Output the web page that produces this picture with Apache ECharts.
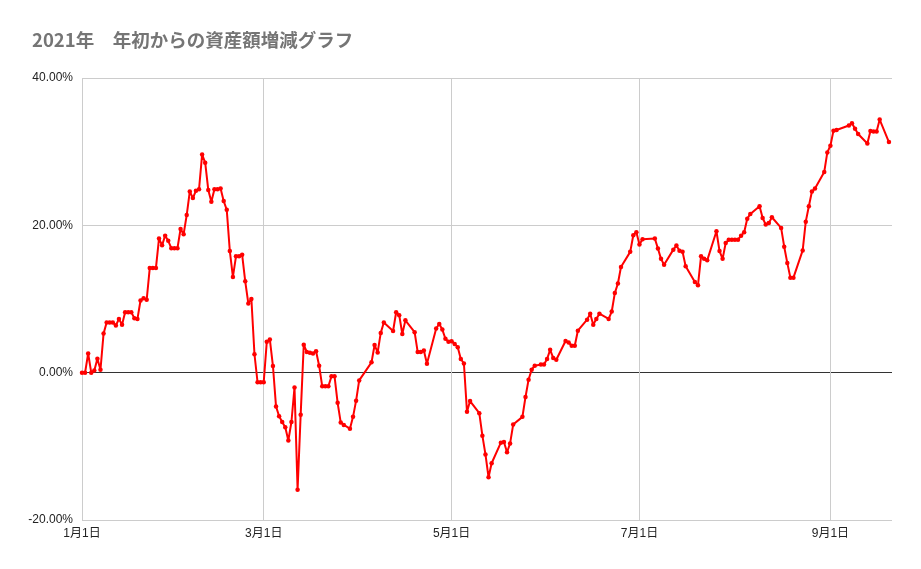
<!DOCTYPE html>
<html>
<head>
<meta charset="utf-8">
<script src="https://cdn.jsdelivr.net/npm/echarts@6/dist/echarts.min.js"></script>
<style>
html,body{margin:0;padding:0;background:#fff;}
#chart{width:921px;height:569px;}
</style>
</head>
<body>
<div id="chart"></div>
<script>
var titleText = '2021年　年初からの資産額増減グラフ';

var dates = [
 '1/1','1/2','1/3','1/4','1/5','1/6','1/7','1/8','1/9','1/10',
 '1/11','1/12','1/13','1/14','1/15','1/16','1/17','1/18','1/19','1/20',
 '1/21','1/22','1/23','1/24','1/25','1/26','1/27','1/28','1/29','1/30',
 '1/31','2/1','2/2','2/3','2/4','2/5','2/6','2/7','2/8','2/9',
 '2/10','2/11','2/12','2/13','2/14','2/15','2/16','2/17','2/18','2/19',
 '2/20','2/21','2/22','2/23','2/24','2/25','2/26','2/27','2/28','3/1',
 '3/2','3/3','3/4','3/5','3/6','3/7','3/8','3/9','3/10','3/11',
 '3/12','3/13','3/14','3/15','3/16','3/17','3/18','3/19','3/20','3/21',
 '3/22','3/23','3/24','3/25','3/26','3/27','3/29','3/30','3/31','4/1',
 '4/5','4/6','4/7','4/8','4/9','4/12','4/13','4/14','4/15','4/16',
 '4/19','4/20','4/21','4/22','4/23','4/26','4/27','4/28','4/29','4/30',
 '5/1','5/2','5/3','5/4','5/5','5/6','5/7','5/10','5/11','5/12',
 '5/13','5/14','5/17','5/18','5/19','5/20','5/21','5/24','5/25','5/26',
 '5/27','5/28','5/30','5/31','6/1','6/2','6/3','6/4','6/7','6/8',
 '6/9','6/10','6/11','6/14','6/15','6/16','6/17','6/18','6/21','6/22',
 '6/23','6/24','6/25','6/28','6/29','6/30','7/1','7/2','7/6','7/7',
 '7/8','7/9','7/12','7/13','7/14','7/15','7/16','7/19','7/20','7/21',
 '7/22','7/23','7/26','7/27','7/28','7/29','7/30','7/31','8/1','8/2',
 '8/3','8/4','8/5','8/6','8/9','8/10','8/11','8/12','8/13','8/16',
 '8/17','8/18','8/19','8/20','8/23','8/24','8/25','8/26','8/27','8/30',
 '8/31','9/1','9/2','9/3','9/7','9/8','9/9','9/10','9/13','9/14',
 '9/15','9/16','9/17','9/20'
];

var values = [
 0,0,2.6,0,0.3,1.9,0.4,5.3,6.8,6.8,
 6.8,6.4,7.3,6.5,8.2,8.2,8.2,7.4,7.3,9.8,
 10.1,9.9,14.2,14.2,14.2,18.2,17.3,18.6,17.9,16.9,
 16.9,16.9,19.5,18.8,21.4,24.6,23.7,24.7,24.9,29.6,
 28.5,24.8,23.2,24.9,24.9,25.0,23.3,22.1,16.5,13.0,
 15.8,15.8,16.0,12.4,9.4,10.0,2.5,-1.3,-1.3,-1.3,
 4.2,4.5,0.9,-4.6,-5.9,-6.7,-7.4,-9.2,-6.7,-2.0,
 -15.9,-5.7,3.8,2.8,2.7,2.6,2.9,0.95,-1.85,-1.85,
 -1.85,-0.5,-0.5,-4.1,-6.75,-7.1,-7.6,-6.0,-3.8,-1.05,
 1.4,3.75,2.75,5.4,6.8,5.65,8.2,7.8,5.25,7.1,
 5.5,2.8,2.8,3.0,1.2,6.0,6.6,5.85,4.6,4.2,
 4.25,3.9,3.45,1.85,1.25,-5.3,-3.85,-5.5,-8.55,-11.1,
 -14.2,-12.3,-9.5,-9.4,-10.8,-9.6,-7.05,-6.0,-3.3,-0.95,
 0.4,0.95,1.1,1.1,1.85,3.1,2.0,1.75,4.3,4.1,
 3.65,3.65,5.7,7.2,8.0,6.5,7.3,8.0,7.3,8.3,
 10.8,12.1,14.35,16.4,18.65,19.05,17.4,18.1,18.2,16.85,
 15.45,14.65,16.7,17.25,16.55,16.4,14.45,12.3,11.85,15.8,
 15.45,15.25,19.2,16.5,15.45,17.6,18.05,18.05,18.05,18.05,
 18.6,19.05,20.9,21.55,22.6,21.0,20.1,20.3,21.1,19.65,
 17.1,14.9,12.9,12.9,16.6,20.5,22.6,24.6,25.0,27.25,
 29.9,30.8,32.85,32.95,33.55,33.85,33.1,32.4,31.1,32.8,
 32.75,32.75,34.35,31.3
];

var xTickDates = ['1/1','3/1','5/1','7/1','9/1'];
var xRange = ['1/1','9/21'];
var yMin = -20, yMax = 40, yStep = 20;

var DAY = 86400000;
var BASE = Date.UTC(2021, 0, 1);
function dayOf(md) {
  var p = md.split('/');
  return Math.round((Date.UTC(2021, parseInt(p[0], 10) - 1, parseInt(p[1], 10)) - BASE) / DAY);
}
function labelOf(day) {
  var d = new Date(BASE + Math.round(day) * DAY);
  return (d.getUTCMonth() + 1) + '月' + d.getUTCDate() + '日';
}

var seriesData = dates.map(function (d, i) { return [dayOf(d), values[i]]; });
var tickValues = xTickDates.map(dayOf);

var FONT = '"Liberation Sans", Arial, "Noto Sans CJK JP", sans-serif';

var chart = echarts.init(document.getElementById('chart'), null, {renderer: 'canvas'});
chart.setOption({
  animation: false,
  backgroundColor: '#ffffff',
  title: {
    text: titleText,
    left: 27,
    top: 26,
    textStyle: {
      fontFamily: '"Noto Sans CJK JP", "Liberation Sans", sans-serif',
      fontSize: 18.5,
      fontWeight: 'bold',
      color: '#757575'
    }
  },
  grid: {left: 82, right: 29, top: 78, bottom: 49, containLabel: false},
  xAxis: {
    type: 'value',
    min: dayOf(xRange[0]),
    max: dayOf(xRange[1]),
    axisLine: {show: false, onZero: false},
    axisTick: {show: false, customValues: tickValues},
    axisLabel: {
      customValues: tickValues,
      margin: 8,
      fontSize: 12,
      color: '#222222',
      fontFamily: FONT,
      formatter: function (v) { return labelOf(v); }
    },
    splitLine: {show: true, lineStyle: {color: '#cccccc', width: 1}}
  },
  yAxis: {
    type: 'value',
    min: yMin,
    max: yMax,
    interval: yStep,
    axisLine: {show: false},
    axisTick: {show: false},
    axisLabel: {
      margin: 9,
      fontSize: 12,
      color: '#222222',
      fontFamily: FONT,
      formatter: function (v) { return v.toFixed(2) + '%'; }
    },
    splitLine: {show: true, lineStyle: {color: ['#cccccc', '#333333', '#cccccc', '#cccccc'], width: 1}}
  },
  series: [{
    type: 'line',
    data: seriesData,
    showSymbol: true,
    showAllSymbol: true,
    symbol: 'circle',
    symbolSize: 4.5,
    itemStyle: {color: '#ff0000'},
    lineStyle: {color: '#ff0000', width: 2},
    z: 5
  }]
});
</script>
</body>
</html>
